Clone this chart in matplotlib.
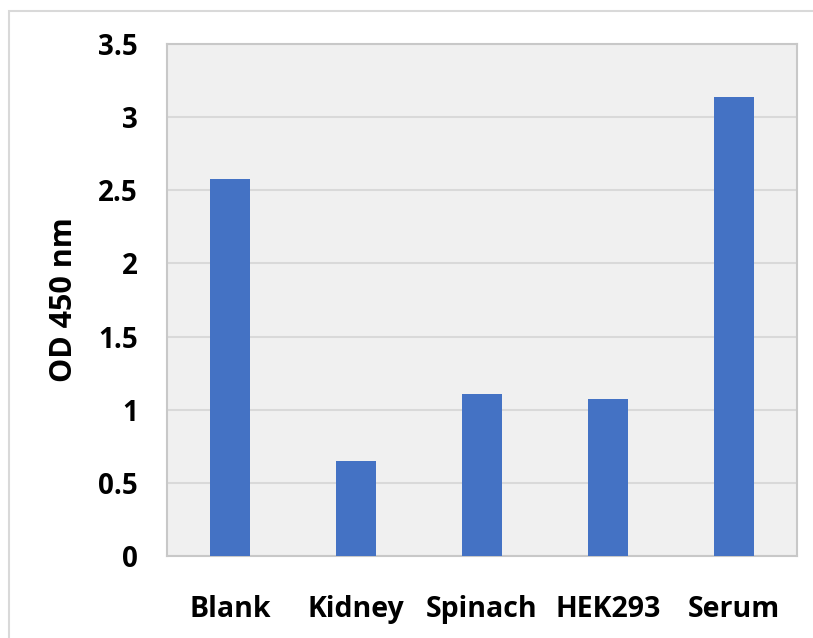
import matplotlib.pyplot as plt
import matplotlib.patches as patches

samples = ["Blank", "Kidney", "Spinach", "HEK293", "Serum"]
od450 = [2.58, 0.65, 1.11, 1.07, 3.14]
yticks = [0, 0.5, 1, 1.5, 2, 2.5, 3, 3.5]
ytick_labels = ["0", "0.5", "1", "1.5", "2", "2.5", "3", "3.5"]

plt.rcParams['font.family'] = ['Open Sans', 'DejaVu Sans']
plt.rcParams['font.weight'] = 'bold'

fig = plt.figure(figsize=(8.13, 6.38), dpi=100)
ax = fig.add_axes([167 / 813, 1 - 556 / 638, 630 / 813, 512 / 638])

# outer chart border
fig.patches.append(patches.Rectangle((9 / 813, -0.1), 1.2, 1 - 11 / 638 + 0.1,
                                     transform=fig.transFigure, fill=False,
                                     edgecolor='#d9d9d9', lw=1.5))

x = range(len(samples))
ax.bar(x, od450, width=0.31, color='#4472c4', zorder=3)

ax.set_facecolor('#f0f0f0')
ax.set_xlim(-0.5, len(samples) - 0.5)
ax.set_ylim(0, 3.5)
ax.set_yticks(yticks)
ax.set_yticklabels(ytick_labels, fontsize=20, fontweight='bold')
ax.set_xticks(list(x))
ax.set_xticklabels(samples, fontsize=20.5, fontweight='bold')
ax.tick_params(axis='y', length=0, pad=21)
ax.tick_params(axis='x', length=0, pad=28)
ax.grid(axis='y', color='#d9d9d9', lw=1.5, zorder=0)
for s in ax.spines.values():
  s.set_color('#c8c8c8')
  s.set_linewidth(1.5)

ax.set_ylabel('OD 450 nm', fontsize=22, fontweight='bold', labelpad=14)

fig.savefig('out.png', dpi=100)
